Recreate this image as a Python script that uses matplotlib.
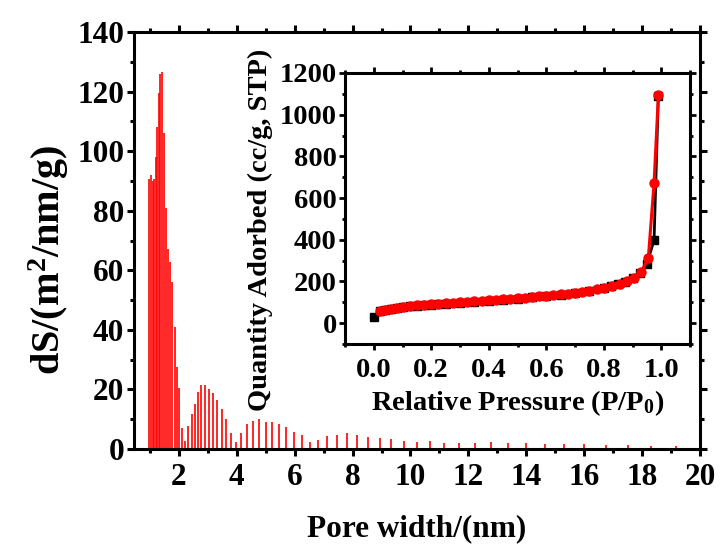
import matplotlib
matplotlib.use("Agg")
import matplotlib.pyplot as plt
from matplotlib.ticker import MultipleLocator

# ---- data: pore size distribution ----
pore_width = [0.97, 1.03, 1.09, 1.15, 1.20, 1.25, 1.30, 1.36, 1.41, 1.48, 1.55, 1.62, 1.70, 1.77,
              1.85, 1.94, 2.02, 2.11, 2.22, 2.31, 2.44, 2.54, 2.66, 2.77, 2.90, 3.03, 3.18, 3.33,
              3.48, 3.64, 3.80, 3.99, 4.16, 4.36, 4.55, 4.76, 5.00, 5.21, 5.45, 5.70, 5.96, 6.25,
              6.52, 6.82, 7.13, 7.46, 7.79, 8.16, 8.53, 8.93, 9.33, 9.77, 10.21, 10.68, 11.17,
              11.69, 12.23, 12.79, 13.37, 13.99, 14.64, 15.31, 16.01, 16.75, 17.52, 18.32, 19.16]
dS = [90.5, 92, 90, 90.5, 98, 108, 119.4, 125.9, 126.7, 106, 80.8, 67, 62.7, 56,
      41, 27.4, 20.4, 7.2, 2.8, 7.8, 11.7, 15.2, 19, 21.4, 21.5, 20, 18.7, 16.4,
      13.3, 10.2, 5.3, 2.5, 5.3, 8.3, 9.5, 10.1, 9.2, 8.9, 8.3, 7.3, 5.6, 4.6,
      2.5, 3.0, 4.3, 4.8, 5.3, 4.8, 4.0, 3.6, 3.4, 2.7, 2.5, 2.6, 1.9,
      1.9, 2.0, 2.3, 2.1, 2.0, 1.7, 1.7, 1.6, 1.3, 1.2, 1.1, 1.0]

# ---- data: isotherm (inset) ----
ads_p = [0.0, 0.02, 0.04, 0.06, 0.08, 0.1, 0.125, 0.15, 0.175, 0.2, 0.225, 0.25, 0.3, 0.35,
         0.4, 0.45, 0.5, 0.55, 0.6, 0.65, 0.7, 0.75, 0.8, 0.825, 0.85, 0.875, 0.9, 0.925,
         0.95, 0.975, 0.99]
ads_q = [30, 58, 64, 69, 73, 76, 80, 83, 86, 89, 91, 93, 98, 103,
         108, 113, 118, 124, 130, 137, 145, 156, 169, 177, 186, 198, 215, 240,
         285, 398, 1090]
des_p = [0.99, 0.975, 0.955, 0.93, 0.905, 0.88, 0.855, 0.83, 0.8, 0.775, 0.75, 0.725, 0.7,
         0.675, 0.65, 0.625, 0.6, 0.575, 0.55, 0.525, 0.5, 0.475, 0.45, 0.425, 0.4, 0.375,
         0.35, 0.325, 0.3, 0.275, 0.25, 0.225, 0.2, 0.175, 0.15, 0.125, 0.1, 0.08, 0.06,
         0.04, 0.02]
des_q = [1094, 672, 312, 245, 218, 200, 186, 177, 170, 162, 155, 150, 146,
         142, 138, 134, 131, 128, 125, 122, 119, 116, 114, 112, 110, 107,
         105, 103, 101, 98, 96, 94, 91, 88, 85, 82, 78, 74, 70,
         65, 59]

plt.rcParams['font.family'] = ['Liberation Serif', 'DejaVu Serif']
plt.rcParams['font.weight'] = 'bold'
plt.rcParams['mathtext.fontset'] = 'custom'
plt.rcParams['mathtext.rm'] = 'Liberation Serif:bold'
plt.rcParams['mathtext.bf'] = 'Liberation Serif:bold'
plt.rcParams['mathtext.it'] = 'Liberation Serif:bold'

fig = plt.figure(figsize=(7.21, 5.44), dpi=100)

# ---- main axes ----
ax = fig.add_axes([134/721, 1-449/544, (700-134)/721, (449-32)/544])
ax.vlines(pore_width, 0, dS, colors='#ff0000', linewidth=1.2)
ax.set_xlim(0.45, 20)
ax.set_ylim(0, 140)
ax.xaxis.set_major_locator(MultipleLocator(2))
ax.xaxis.set_minor_locator(MultipleLocator(1))
ax.yaxis.set_major_locator(MultipleLocator(20))
ax.yaxis.set_minor_locator(MultipleLocator(10))
for s in ax.spines.values():
    s.set_linewidth(2.2)
ax.tick_params(which='major', direction='out', length=5, width=2.2, labelsize=22.5, pad=2)
ax.tick_params(axis='x', which='major', pad=5)
ax.tick_params(which='minor', direction='out', length=3, width=2.2)
ax.tick_params(which='both', top=True, right=True, labeltop=False, labelright=False)
ax.set_xlabel('Pore width/(nm)', fontsize=22.5, fontweight='bold', labelpad=16)
ax.set_ylabel(r'dS/(m$^{2}$/nm/g)', fontsize=29, fontweight='bold')
ax.yaxis.set_label_coords(-0.112, 0.453)
for lab in ax.get_xticklabels() + ax.get_yticklabels():
    lab.set_fontweight('bold')

# ---- inset ----
ins = fig.add_axes([345/721, 1-344/544, (690-345)/721, (344-73)/544])
ins.plot(ads_p, ads_q, color='black', linewidth=2, marker='s', markersize=6,
         markerfacecolor='black', markeredgecolor='black', zorder=2)
ins.plot(des_p, des_q, color='#ff0000', linewidth=2.2, marker='o', markersize=6.5,
         markerfacecolor='#ff0000', markeredgecolor='#ff0000', zorder=3)
ins.set_xlim(-0.1, 1.1)
ins.set_ylim(-100, 1200)
ins.xaxis.set_major_locator(MultipleLocator(0.2))
ins.xaxis.set_minor_locator(MultipleLocator(0.1))
ins.yaxis.set_major_locator(MultipleLocator(200))
ins.yaxis.set_minor_locator(MultipleLocator(100))
ins.xaxis.set_major_formatter(plt.FuncFormatter(lambda v, p: f'{v:.1f}'))
for s in ins.spines.values():
    s.set_linewidth(2.2)
ins.tick_params(which='major', direction='out', length=4, width=2, labelsize=20.5, pad=2)
ins.tick_params(axis='x', which='major', pad=6)
ins.tick_params(which='minor', direction='out', length=2.5, width=2)
ins.tick_params(which='both', top=True, right=True, labeltop=False, labelright=False)
ins.set_xlabel(r'Relative Pressure (P/P$_{0}$)', fontsize=20.5, fontweight='bold', labelpad=4)
ins.set_ylabel('Quantity Adorbed (cc/g, STP)', fontsize=20.5, fontweight='bold')
ins.yaxis.set_label_coords(-0.21, 0.42)
for lab in ins.get_xticklabels() + ins.get_yticklabels():
    lab.set_fontweight('bold')

fig.savefig('out.png', dpi=100)
